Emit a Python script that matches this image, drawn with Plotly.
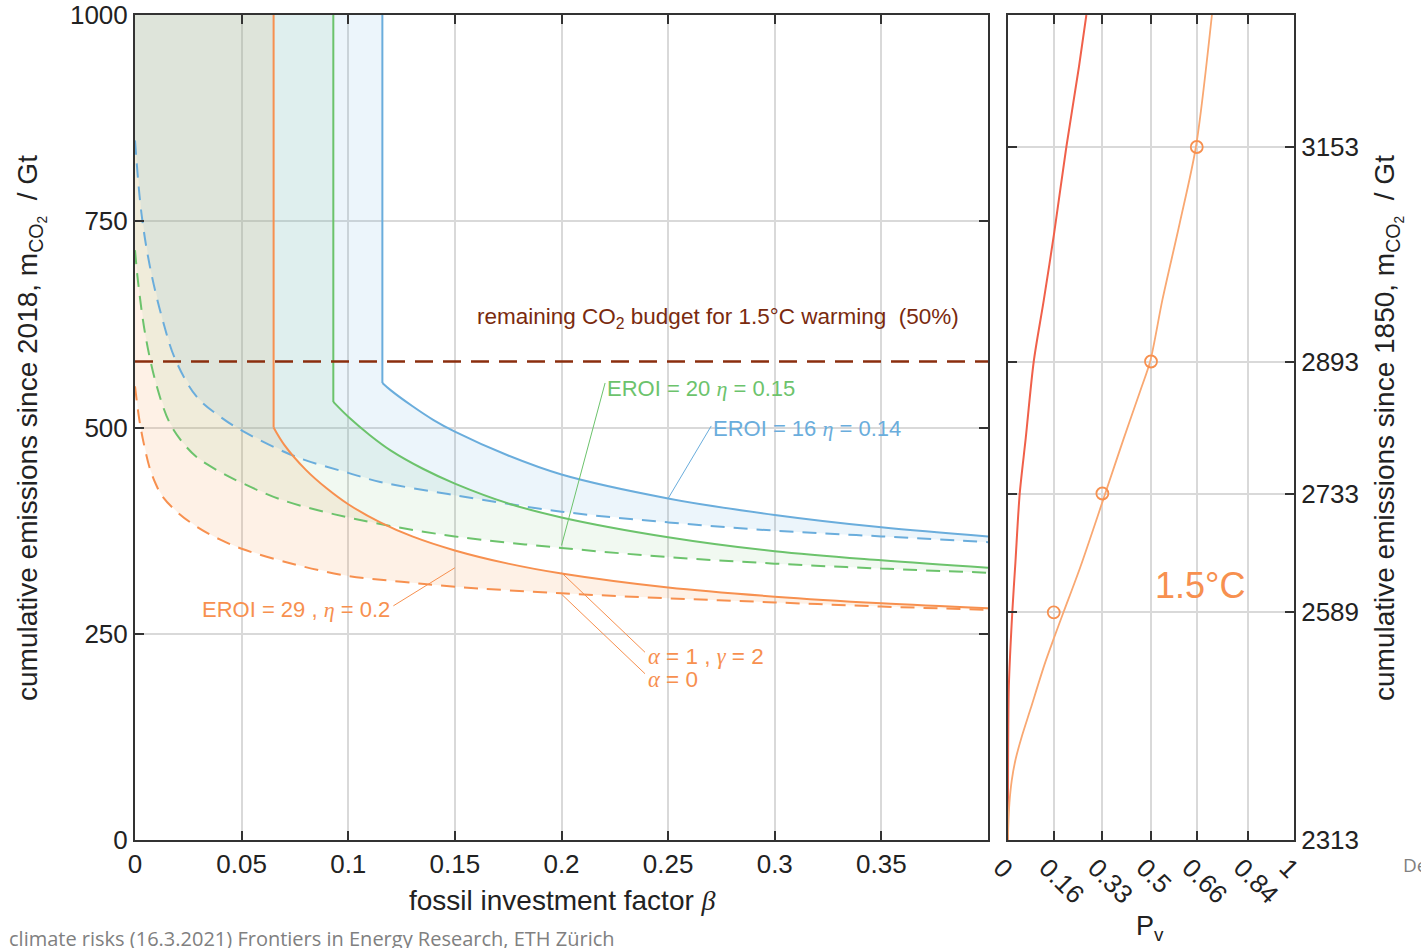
import plotly.graph_objects as go

W, H = 1421, 948

# ---------------- main panel data (beta vs cumulative emissions since 2018, Gt) ----------------
# EROI = 29, eta = 0.2  (orange)
beta_o_solid = [0.065, 0.065, 0.07, 0.08, 0.09, 0.10, 0.115, 0.13, 0.15, 0.175, 0.20, 0.25, 0.30, 0.35, 0.40]
m_o_solid    = [1000, 500, 479, 449, 426, 407, 385, 368, 351, 335, 323, 306, 295, 287, 281]
beta_o_dash  = [0, 0.002, 0.004, 0.007, 0.010, 0.013, 0.02, 0.03, 0.04, 0.05, 0.075, 0.10, 0.125, 0.15, 0.20, 0.25, 0.30, 0.35, 0.40]
m_o_dash     = [550, 510, 482, 450, 430, 416, 397, 378, 364, 353, 334, 320, 313, 307, 299, 293, 288, 283, 279]

# EROI = 20, eta = 0.15  (green)
beta_g_solid = [0.093, 0.093, 0.10, 0.11, 0.12, 0.135, 0.15, 0.175, 0.20, 0.25, 0.30, 0.35, 0.40]
m_g_solid    = [1000, 531, 513, 491, 472, 450, 432, 408, 391, 367, 350, 339, 330]
beta_g_dash  = [0, 0.0015, 0.005, 0.010, 0.016, 0.022, 0.029, 0.04, 0.05, 0.068, 0.09, 0.115, 0.15, 0.20, 0.25, 0.30, 0.35, 0.40]
m_g_dash     = [715, 675, 610, 552, 507, 483, 464, 446, 433, 413, 397, 383, 368, 354, 343, 335, 329, 324]

# EROI = 16, eta = 0.14  (blue)
beta_b_solid = [0.116, 0.116, 0.12, 0.13, 0.14, 0.15, 0.175, 0.20, 0.25, 0.30, 0.35, 0.40]
m_b_solid    = [1000, 554, 545, 526, 509, 495, 466, 443, 414, 394, 379, 368]
beta_b_dash  = [0, 0.003, 0.007, 0.013, 0.019, 0.029, 0.04, 0.051, 0.076, 0.10, 0.115, 0.15, 0.20, 0.25, 0.30, 0.35, 0.40]
m_b_dash     = [848, 760, 695, 630, 582, 537, 513, 495, 464, 445, 434, 418, 398, 385, 375, 368, 361]

budget_beta = [0, 0.4]
budget_m = 580          # remaining CO2 budget for 1.5 C (50%)

# ---------------- right panel data (Pv vs cumulative emissions since 1850, Gt) ----------------
pv_red       = [0, 0, 0.0002, 0.001, 0.003, 0.015, 0.026, 0.041, 0.062, 0.090, 0.125, 0.162, 0.204, 0.248, 0.274]
m1850_red    = [2313, 2350, 2400, 2450, 2500, 2589, 2650, 2733, 2800, 2893, 2967, 3050, 3153, 3250, 3313]
pv_orange    = [0, 0.001, 0.005, 0.013, 0.026, 0.047, 0.079, 0.127, 0.162, 0.194, 0.253, 0.312, 0.34, 0.403, 0.462, 0.497, 0.54, 0.60, 0.657, 0.713]
m1850_orange = [2313, 2330, 2358, 2385, 2410, 2437, 2472, 2525, 2559, 2589, 2644, 2704, 2733, 2798, 2857, 2893, 2968, 3060, 3153, 3313]
pv_marks     = [0.16, 0.33, 0.5, 0.66]
m1850_marks  = [2589, 2733, 2893, 3153]

# ---------------- ticks ----------------
xticks_main = [0, 0.05, 0.1, 0.15, 0.2, 0.25, 0.3, 0.35]
xticklabels_main = ["0", "0.05", "0.1", "0.15", "0.2", "0.25", "0.3", "0.35"]
yticks_main = [0, 250, 500, 750, 1000]
xticks_pv = [0, 0.16, 0.33, 0.5, 0.66, 0.84, 1]
xticklabels_pv = ["0", "0.16", "0.33", "0.5", "0.66", "0.84", "1"]
yticks_1850 = [2313, 2589, 2733, 2893, 3153]

X_MAX, Y_MAX = 0.4, 1000
Y2_MIN, Y2_MAX = 2313, 3313

# ---------------- styles ----------------
ORANGE = "#F7904F"
GREEN = "#6CC36C"
BLUE = "#6AADDC"
RED = "#F0604A"
ORANGE_LIGHT = "#F9A872"
BROWN = "#8B2E0E"
FONT = "Liberation Sans"
SERIF = "Liberation Serif"

fig = go.Figure()

def band(bx_dash, m_dash, bx_solid, m_solid, fillcolor):
    xs = list(bx_dash) + list(bx_solid)[::-1] + [0]
    ys = list(m_dash) + list(m_solid)[::-1] + [Y_MAX]
    fig.add_trace(go.Scatter(x=xs, y=ys, mode="lines", fill="toself", fillcolor=fillcolor,
                             line=dict(width=0), hoverinfo="skip", showlegend=False))

band(beta_o_dash, m_o_dash, beta_o_solid, m_o_solid, "rgba(245,150,60,0.13)")
band(beta_g_dash, m_g_dash, beta_g_solid, m_g_solid, "rgba(100,190,100,0.09)")
band(beta_b_dash, m_b_dash, beta_b_solid, m_b_solid, "rgba(100,170,220,0.12)")

SPL = dict(shape="spline", smoothing=1.0)
SPL2 = dict(shape="spline", smoothing=0.8)
DASH = "14px,9px"
for bx, m, col in [(beta_o_dash, m_o_dash, ORANGE), (beta_g_dash, m_g_dash, GREEN), (beta_b_dash, m_b_dash, BLUE)]:
    fig.add_trace(go.Scatter(x=bx, y=m, mode="lines", line=dict(color=col, width=2, dash=DASH, **SPL),
                             showlegend=False, hoverinfo="skip"))
for bx, m, col in [(beta_o_solid, m_o_solid, ORANGE), (beta_g_solid, m_g_solid, GREEN), (beta_b_solid, m_b_solid, BLUE)]:
    # vertical part (first two points) and curved part
    fig.add_trace(go.Scatter(x=bx[:2], y=m[:2], mode="lines", line=dict(color=col, width=2),
                             showlegend=False, hoverinfo="skip"))
    fig.add_trace(go.Scatter(x=bx[1:], y=m[1:], mode="lines", line=dict(color=col, width=2, **SPL),
                             showlegend=False, hoverinfo="skip"))

fig.add_trace(go.Scatter(x=budget_beta, y=[budget_m, budget_m], mode="lines",
                         line=dict(color=BROWN, width=2.5, dash="18px,10px"),
                         showlegend=False, hoverinfo="skip"))

# right panel
fig.add_trace(go.Scatter(x=pv_red, y=m1850_red, mode="lines", line=dict(color=RED, width=2, **SPL2),
                         xaxis="x2", yaxis="y2", showlegend=False, hoverinfo="skip"))
fig.add_trace(go.Scatter(x=pv_orange, y=m1850_orange, mode="lines", line=dict(color=ORANGE_LIGHT, width=1.8, **SPL2),
                         xaxis="x2", yaxis="y2", showlegend=False, hoverinfo="skip"))
fig.add_trace(go.Scatter(x=pv_marks, y=m1850_marks, mode="markers",
                         marker=dict(symbol="circle-open", size=12, color=ORANGE, line=dict(width=1.8)),
                         xaxis="x2", yaxis="y2", showlegend=False, hoverinfo="skip"))

axis_common = dict(showgrid=True, gridcolor="#d9d9d9", gridwidth=1.5, zeroline=False,
                   showline=True, linecolor="#333333", linewidth=2, mirror="ticks",
                   ticks="inside", ticklen=9, tickwidth=2, tickcolor="#333333",
                   tickfont=dict(family=FONT, size=26, color="#222222"), automargin=False)

def px_x(p):
    return p / W

def px_y(p):
    return (H - p) / H

fig.update_layout(
    width=W, height=H,
    margin=dict(l=0, r=0, t=0, b=0),
    paper_bgcolor="white", plot_bgcolor="white",
    font=dict(family=FONT, size=25, color="#222222"),
    xaxis=dict(domain=[px_x(135), px_x(988)], range=[0, X_MAX], tickvals=xticks_main,
               ticktext=xticklabels_main, anchor="y", **axis_common),
    yaxis=dict(domain=[px_y(840), px_y(15)], range=[0, Y_MAX], tickvals=yticks_main,
               anchor="x", **axis_common),
    xaxis2=dict(domain=[px_x(1008), px_x(1294)], range=[0, 1], tickvals=xticks_pv,
                ticktext=xticklabels_pv, tickangle=45, ticklabelshift=-7, anchor="y2", **axis_common),
    yaxis2=dict(domain=[px_y(840), px_y(15)], range=[Y2_MIN, Y2_MAX], tickvals=yticks_1850,
                side="right", anchor="x2", **axis_common),
)

def greek(ch):
    return f'<span style="font-family:{SERIF}"><i>{ch}</i></span>'

ann = []
def text(x, y, s, size=22, color="#222222", xanchor="left", yanchor="middle", angle=0, family=FONT):
    ann.append(dict(x=px_x(x), y=px_y(y), xref="paper", yref="paper", text=s, showarrow=False,
                    xanchor=xanchor, yanchor=yanchor, textangle=angle,
                    font=dict(family=family, size=size, color=color)))

def leader(xd, yd, ax, ay, color, xa="x", ya="y"):
    ann.append(dict(x=xd, y=yd, xref=xa, yref=ya, text="", showarrow=True, arrowhead=0,
                    arrowwidth=1, arrowcolor=color, ax=ax, ay=ay, axref="pixel", ayref="pixel"))

# axis titles
text(562, 900, "fossil investment factor " + greek("β"), size=28, xanchor="center")
text(31, 428, "cumulative emissions since 2018, m<sub>CO<sub>2</sub></sub>  / Gt", size=28,
     xanchor="center", angle=-90)
text(1388, 428, "cumulative emissions since 1850, m<sub>CO<sub>2</sub></sub>  / Gt", size=28,
     xanchor="center", angle=-90)
text(1150, 909, "P<sub>v</sub>", size=27, xanchor="center", yanchor="top")

# labels in main panel
text(475, 318, "remaining CO<sub>2</sub> budget for 1.5°C warming  (50%)", size=22.5, color="#7A2A0E")
text(605, 388, "EROI = 20 " + greek("η") + " = 0.15", size=22, color=GREEN)
text(711, 429, "EROI = 16 " + greek("η") + " = 0.14", size=22, color=BLUE)
text(392, 609, "EROI = 29 , " + greek("η") + " = 0.2", size=22, color=ORANGE, xanchor="right")
text(646, 656, greek("α") + " = 1 , " + greek("γ") + " = 2", size=22.5, color=ORANGE)
text(646, 679, greek("α") + " = 0", size=22.5, color=ORANGE)
text(1200, 585, "1.5°C", size=36, color=ORANGE, xanchor="center")

# leader lines
leader(0.15, 330, -63, 39, ORANGE)
leader(0.2, 324, 85, 81, ORANGE)
leader(0.2, 298, 85, 81, ORANGE)
leader(0.2, 357, 44, -164, GREEN)
leader(0.25, 414, 44, -74, BLUE)

# screenshot remnants
text(7, 938, "climate risks (16.3.2021) Frontiers in Energy Research, ETH Zürich", size=20,
     color="#808080", family="Open Sans")
text(1401, 865, "De", size=19, color="#808080", family="Open Sans")

fig.update_layout(annotations=ann)
fig.write_html("out.html")
